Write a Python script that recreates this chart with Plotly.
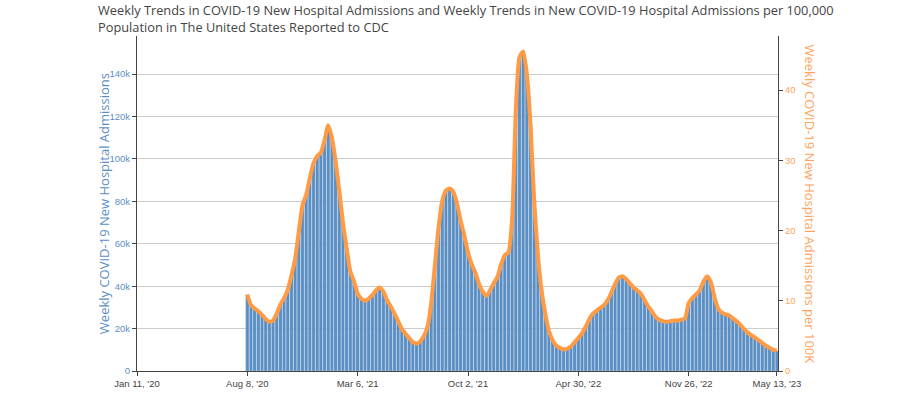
import pandas as pd
import plotly.graph_objects as go

start_week = "2020-08-08"
admissions = [
    36000, 31000, 29500, 28000, 26500, 24500, 23200, 24000, 27000, 31500,
    34500, 38500, 45000, 53000, 66000, 78000, 83000, 91000, 98000, 101500,
    103000, 109000, 116000, 110000, 99000, 85000, 70000, 58000, 47000, 42500,
    36500, 34000, 33000, 34200, 35800, 38000, 39500, 37500, 33500, 30500,
    27000, 23500, 20000, 17500, 15500, 13500, 12800, 13800, 16500, 21000,
    32000, 50000, 68000, 80000, 85000, 86200, 84500, 79000, 71000, 64000,
    56000, 50500, 46500, 41000, 37500, 35500, 38000, 41500, 44500, 50500,
    54500, 56000, 72000, 123000, 148000, 150600, 140000, 116000, 80000, 55000,
    38000, 27000, 19000, 14500, 12000, 10800, 10200, 10500, 11500, 13500,
    15500, 18000, 21000, 24500, 27000, 28500, 29800, 31000, 33500, 37000,
    41000, 44000, 44800, 43500, 41500, 39500, 38000, 36500, 33500, 30500,
    28000, 25500, 24200, 23500, 23200, 23500, 23800, 24000, 24200, 24800,
    32000, 34500, 36000, 38000, 42000, 44800, 42000, 35000, 29500, 27500,
    26800, 26000, 25000, 23500, 21800, 20000, 18200, 17000, 15800, 14500,
    13300, 11800, 10800, 10000, 9500,
]
rate_per_100k = [
    10.9, 9.4, 8.9, 8.5, 8.0, 7.4, 7.0, 7.2, 8.2, 9.5,
    10.4, 11.6, 13.6, 16.0, 19.9, 23.6, 25.1, 27.5, 29.6, 30.6,
    31.1, 32.9, 35.0, 33.2, 29.9, 25.7, 21.1, 17.5, 14.2, 12.8,
    11.0, 10.3, 10.0, 10.3, 10.8, 11.5, 11.9, 11.3, 10.1, 9.2,
    8.2, 7.1, 6.0, 5.3, 4.7, 4.1, 3.9, 4.2, 5.0, 6.3,
    9.7, 15.1, 20.5, 24.2, 25.7, 26.0, 25.5, 23.9, 21.4, 19.3,
    16.9, 15.2, 14.0, 12.4, 11.3, 10.7, 11.5, 12.5, 13.4, 15.2,
    16.5, 16.9, 21.7, 37.1, 44.7, 45.5, 42.3, 35.0, 24.2, 16.6,
    11.5, 8.2, 5.7, 4.4, 3.6, 3.3, 3.1, 3.2, 3.5, 4.1,
    4.7, 5.4, 6.3, 7.4, 8.2, 8.6, 9.0, 9.4, 10.1, 11.2,
    12.4, 13.3, 13.5, 13.1, 12.5, 11.9, 11.5, 11.0, 10.1, 9.2,
    8.5, 7.7, 7.3, 7.1, 7.0, 7.1, 7.2, 7.2, 7.3, 7.5,
    9.7, 10.4, 10.9, 11.5, 12.7, 13.5, 12.7, 10.6, 8.9, 8.3,
    8.1, 7.9, 7.5, 7.1, 6.6, 6.0, 5.5, 5.1, 4.8, 4.4,
    4.0, 3.6, 3.3, 3.0, 2.9,
]
tick_dates = ["2020-01-11", "2020-08-08", "2021-03-06", "2021-10-02",
              "2022-04-30", "2022-11-26", "2023-05-13"]
tick_labels = ["Jan 11, '20", "Aug 8, '20", "Mar 6, '21", "Oct 2, '21",
               "Apr 30, '22", "Nov 26, '22", "May 13, '23"]
left_ticks = [0, 20000, 40000, 60000, 80000, 100000, 120000, 140000]
left_labels = ["0", "20k", "40k", "60k", "80k", "100k", "120k", "140k"]
right_ticks = [0, 10, 20, 30, 40]

title_text = ("Weekly Trends in COVID-19 New Hospital Admissions and Weekly Trends in New "
              "COVID-19 Hospital Admissions per 100,000<br>Population in The United States "
              "Reported to CDC")
left_title = "Weekly COVID-19 New Hospital Admissions"
right_title = "Weekly COVID-19 New Hospital Admissions per 100K"

weeks = pd.date_range(start_week, periods=len(admissions), freq="7D")

blue = "#5b8fc4"
orange = "#ff9a45"
orange_text = "#ffa35c"

fig = go.Figure()
fig.add_trace(go.Bar(
    x=weeks, y=admissions, name="Weekly New Hospital Admissions",
    marker=dict(color=blue, line=dict(color="rgba(255,255,255,0.35)", width=0.6)),
    yaxis="y",
))
fig.add_trace(go.Scatter(
    x=weeks, y=rate_per_100k, name="Weekly New Hospital Admissions per 100K",
    mode="lines", line=dict(color=orange, width=4, shape="spline", smoothing=0.6),
    yaxis="y2",
))

fig.update_layout(
    width=900, height=407,
    margin=dict(l=137, r=122, t=36, b=36),
    paper_bgcolor="white", plot_bgcolor="white",
    showlegend=False, bargap=0.08,
    font=dict(family="Liberation Sans, Arial, sans-serif", size=10, color="#444"),
    xaxis=dict(
        type="date", range=["2020-01-11", "2023-05-15"],
        tickvals=tick_dates, ticktext=tick_labels, automargin=False,
        showgrid=False, showline=True, linecolor="#444", linewidth=1,
        ticks="outside", ticklen=4, tickcolor="#444",
        tickfont=dict(size=9.5, color="#444"), zeroline=False,
    ),
    yaxis=dict(
        range=[0, 158000], tickvals=left_ticks, ticktext=left_labels, automargin=False,
        showgrid=True, gridcolor="#cccccc", gridwidth=1,
        showline=True, linecolor="#444", linewidth=1,
        ticks="outside", ticklen=4, tickcolor="#444",
        tickfont=dict(size=9.5, color=blue), zeroline=False,
    ),
    yaxis2=dict(
        overlaying="y", side="right", range=[0, 158000 / 3312], automargin=False,
        tickvals=right_ticks,
        showgrid=False, showline=True, linecolor="#444", linewidth=1,
        ticks="outside", ticklen=4, tickcolor="#444",
        tickfont=dict(size=9.5, color=orange_text), zeroline=False,
    ),
    annotations=[
        dict(text=title_text, xref="paper", yref="paper", x=-0.0624, y=371 / 335,
             xanchor="left", yanchor="top", align="left", showarrow=False,
             borderpad=0,
             font=dict(family="Open Sans, sans-serif", size=12.8, color="#444")),
        dict(text=left_title, xref="paper", yref="paper", x=-0.052, y=0.5,
             xanchor="center", yanchor="middle", textangle=-90, showarrow=False,
             font=dict(family="Open Sans, sans-serif", size=13, color=blue)),
        dict(text=right_title, xref="paper", yref="paper", x=1.05, y=0.5,
             xanchor="center", yanchor="middle", textangle=90, showarrow=False,
             font=dict(family="Open Sans, sans-serif", size=13, color=orange_text)),
    ],
)

fig.write_html("out.html", config={"displayModeBar": False},
               post_script="document.body.style.margin = '0';")
